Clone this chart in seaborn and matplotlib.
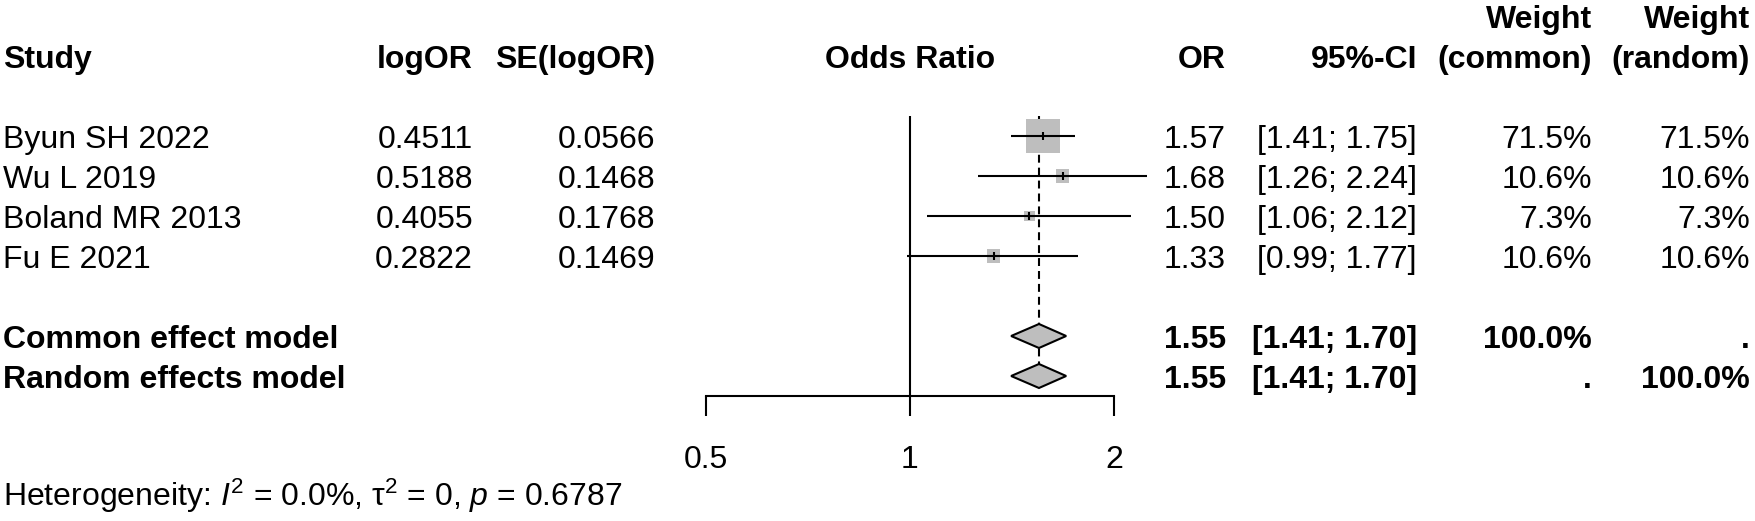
"""Forest plot (meta-analysis of odds ratios) redrawn with seaborn/matplotlib."""

import matplotlib

matplotlib.use("Agg")
import matplotlib.pyplot as plt
import numpy as np
import seaborn as sns
from matplotlib.ticker import NullLocator

# ---- data ----
studies = ["Byun SH 2022", "Wu L 2019", "Boland MR 2013", "Fu E 2021"]
log_or = [0.4511, 0.5188, 0.4055, 0.2822]
se_log_or = [0.0566, 0.1468, 0.1768, 0.1469]
odds_ratio = [1.57, 1.68, 1.50, 1.33]
ci_lower = [1.41, 1.26, 1.06, 0.99]
ci_upper = [1.75, 2.24, 2.12, 1.77]
weight_common = [71.5, 10.6, 7.3, 10.6]
weight_random = [71.5, 10.6, 7.3, 10.6]

models = ["Common effect model", "Random effects model"]
model_or = [1.55, 1.55]
model_lower = [1.41, 1.41]
model_upper = [1.70, 1.70]
model_w_common = ["100.0%", "."]
model_w_random = [".", "100.0%"]

x_ticks = [0.5, 1, 2]
x_ticklabels = ["0.5", "1", "2"]
heterogeneity = "Heterogeneity: $I^2$ = 0.0%, τ$^2$ = 0, $p$ = 0.6787"

# ---- layout ----
W, H = 1756, 521
ROW0, ROW_H = 56, 40  # pixel centre of header row, pixels per row
top_row = -ROW0 / ROW_H
bottom_row = (H - ROW0) / ROW_H
study_rows = [2, 3, 4, 5]
model_rows = [7, 8]
axis_row = 8.5
FS = 23
LW = 1.5
GREY = "#bebebe"

sns.set_theme(style="white")
plt.rcParams["font.family"] = ["Liberation Sans", "DejaVu Sans"]
plt.rcParams["mathtext.fontset"] = "custom"
plt.rcParams["mathtext.rm"] = "Liberation Sans"
plt.rcParams["mathtext.it"] = "Liberation Sans:italic"
plt.rcParams["mathtext.bf"] = "Liberation Sans:bold"

fig = plt.figure(figsize=(W / 100, H / 100), dpi=100)
fig.patch.set_facecolor("white")

# text layer: x in pixels, y in rows
tab = fig.add_axes([0, 0, 1, 1])
tab.set_xlim(0, W)
tab.set_ylim(bottom_row, top_row)
tab.axis("off")


def put(x, row, s, ha="right", bold=False):
    tab.text(x, row + 0.29, s, ha=ha, va="baseline", fontsize=FS,
             fontweight="bold" if bold else "normal", color="black")


col_study, col_log, col_se, col_plot = 3, 473, 655, 910
col_or, col_ci, col_wc, col_wr = 1226, 1417, 1592, 1750

# headers
put(col_study, 0, "Study", ha="left", bold=True)
put(col_log, 0, "logOR", bold=True)
put(col_se, 0, "SE(logOR)", bold=True)
put(col_plot, 0, "Odds Ratio", ha="center", bold=True)
put(col_or, 0, "OR", bold=True)
put(col_ci, 0, "95%-CI", bold=True)
put(col_wc, -1, "Weight", bold=True)
put(col_wc, 0, "(common)", bold=True)
put(col_wr, -1, "Weight", bold=True)
put(col_wr, 0, "(random)", bold=True)

# study rows
for r, name, lo_, se, est, lo, hi, wc, wr in zip(study_rows, studies, log_or, se_log_or,
                                                odds_ratio, ci_lower, ci_upper,
                                                weight_common, weight_random):
    put(col_study, r, name, ha="left")
    put(col_log, r, f"{lo_:.4f}")
    put(col_se, r, f"{se:.4f}")
    put(col_or, r, f"{est:.2f}")
    put(col_ci, r, f"[{lo:.2f}; {hi:.2f}]")
    put(col_wc, r, f"{wc:.1f}%")
    put(col_wr, r, f"{wr:.1f}%")

# pooled rows
for r, name, est, lo, hi, wc, wr in zip(model_rows, models, model_or, model_lower,
                                        model_upper, model_w_common, model_w_random):
    put(col_study, r, name, ha="left", bold=True)
    put(col_or, r, f"{est:.2f}", bold=True)
    put(col_ci, r, f"[{lo:.2f}; {hi:.2f}]", bold=True)
    put(col_wc, r, wc, bold=True)
    put(col_wr, r, wr, bold=True)

put(col_study, 10.95, heterogeneity, ha="left")

# ---- forest panel ----
ax = fig.add_axes([706 / W, 0, 408 / W, 1])
ax.patch.set_alpha(0)

max_w = max(weight_common)
sizes = [600 * w / max_w for w in weight_common]
sns.scatterplot(x=odds_ratio, y=study_rows, s=sizes, marker="s", color=GREY,
                linewidth=0, ax=ax, legend=False, zorder=2)

ax.vlines(1, 1.5, axis_row, color="black", lw=LW, zorder=1)
ax.vlines(model_or[0], 1.5, model_rows[-1], color="black", lw=LW,
          linestyles=(0, (3.8, 2.4)), zorder=1)

ax.hlines(study_rows, ci_lower, ci_upper, color="black", lw=LW, zorder=4,
          clip_on=False)
ax.scatter(odds_ratio, study_rows, marker="|", s=33, color="black", lw=LW, zorder=5)

for r, est, lo, hi in zip(model_rows, model_or, model_lower, model_upper):
    ax.fill([lo, est, hi, est], [r, r - 0.3, r, r + 0.3], facecolor=GREY,
            edgecolor="black", lw=LW, zorder=3)

ax.set_xscale("log")
ax.set_xlim(x_ticks[0], x_ticks[-1])
ax.set_ylim(bottom_row, top_row)
ax.set_xticks(x_ticks)
ax.set_xticklabels(x_ticklabels)
ax.xaxis.set_minor_locator(NullLocator())
ax.set_yticks([])
ax.set_xlabel("")
ax.set_ylabel("")
for side in ["top", "left", "right"]:
    ax.spines[side].set_visible(False)
ax.spines["bottom"].set_position(("data", axis_row))
ax.spines["bottom"].set_color("black")
ax.spines["bottom"].set_linewidth(LW)
ax.tick_params(axis="x", bottom=True, direction="out", length=14.4, width=LW,
               color="black", pad=21, labelsize=FS, labelcolor="black")
ax.grid(False)

fig.savefig("out.png", dpi=100, facecolor="white")
